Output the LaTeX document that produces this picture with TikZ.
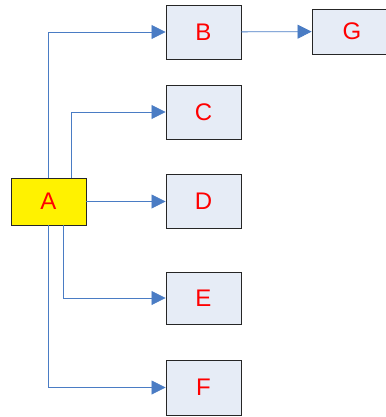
\documentclass[tikz,border=0pt]{standalone}
\usepackage{fontspec}
\setmainfont{Liberation Sans}
\usetikzlibrary{arrows.meta}
\definecolor{boxfill}{HTML}{E6ECF6}
\definecolor{linkblue}{HTML}{4A7CC4}
\begin{document}
\begin{tikzpicture}[x=1pt, y=-1pt, every node/.style={draw=black!85, fill=boxfill, text=red,
                  font=\fontsize{24}{28}\selectfont, minimum width=75pt, minimum height=54pt,
                  inner sep=0pt, line width=0.9pt},
                  link/.style={draw=linkblue, line width=0.8pt, -{Triangle[length=14pt,width=14pt]}}]
              \useasboundingbox (0,0) rectangle (385,417);
              \node[fill=yellow, minimum height=47pt] (A) at (48.5,201.5) {A};
              \node (B) at (203.5,32) {B};
              \node (C) at (203.5,112) {C};
              \node (D) at (203.5,201.5) {D};
              \node[minimum height=52pt] (E) at (203.5,298) {E};
              \node[minimum height=55pt] (F) at (203.5,387.5) {F};
              \node[minimum width=80pt, minimum height=45pt] (G) at (352,31.5) {G};
              \draw[link] (A.north) |- (B);
              \draw[link] ([xshift=22.5pt]A.north) |- (C);
              \draw[link] (A) -- (D);
              \draw[link] ([xshift=14.5pt]A.south) |- (E);
              \draw[link] (A.south) |- (F);
              \draw[link] (B) -- (G);
          \end{tikzpicture}
\end{document}
